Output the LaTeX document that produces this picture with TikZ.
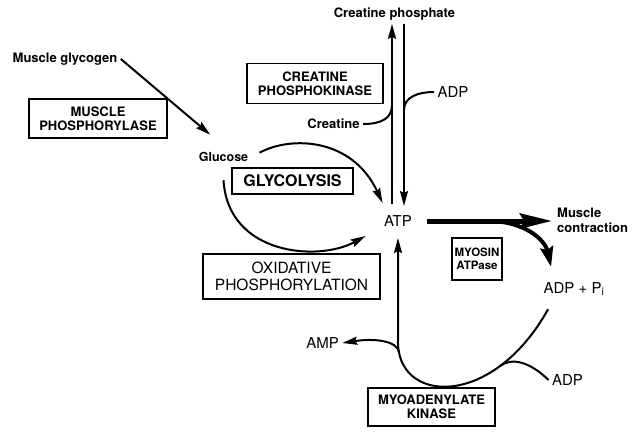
\documentclass[tikz,border=0pt]{standalone}
\usepackage{fontspec}
\setmainfont{TeX Gyre Heros}
\usetikzlibrary{arrows.meta,calc}

\begin{document}
\begin{tikzpicture}[x=1pt,y=-1pt]
  % Define styles
  \tikzstyle{enzyme} = [rectangle, draw, line width=1.2pt, align=center, inner sep=2pt, font=\bfseries\fontsize{13}{14}\selectfont]
  \tikzstyle{metabolite} = [align=left, font=\bfseries\fontsize{13}{15}\selectfont]
  \tikzstyle{pool} = [font=\fontsize{15}{17}\selectfont]
  \tikzstyle{link} = [line width=2pt]
  \tikzstyle{arrow} = [link, ->, >={Stealth[length=15pt,width=8pt,inset=2pt]}]
  \tikzstyle{power} = [line width=5pt, ->, >={Stealth[length=32pt,width=15pt,inset=4pt]}]

  \useasboundingbox (0,0) rectangle (632,432);

  % Glycogen breakdown and glycolysis
  \node [metabolite] (glycogen) at (65,59) {Muscle glycogen};
  \node [enzyme, minimum width=138pt, minimum height=39pt] (phosphorylase) at (98,118.5) {MUSCLE\\PHOSPHORYLASE};
  \node [metabolite, font=\bfseries\fontsize{12.5}{14}\selectfont] (glucose) at (223.5,157) {Glucose};
  \node [enzyme, minimum width=121pt, minimum height=26pt, font=\bfseries\fontsize{16}{18}\selectfont] (glycolysis) at (292.5,181) {GLYCOLYSIS};
  \node [enzyme, minimum width=177pt, minimum height=45pt, font=\fontsize{15.5}{17}\selectfont] (oxphos) at (291.5,276.5) {OXIDATIVE\\PHOSPHORYLATION};

  % Creatine phosphate shuttle
  \node [metabolite] (cp) at (394.5,14) {Creatine phosphate};
  \node [enzyme, minimum width=136pt, minimum height=40pt] (cpk) at (315,83.5) {CREATINE\\PHOSPHOKINASE};
  \node [metabolite] (creatine) at (333.5,124) {Creatine};
  \node [pool] (adptop) at (453,92) {ADP};

  % ATP and its use
  \node [pool] (atp) at (398,221) {ATP};
  \node [metabolite, anchor=west, inner sep=0pt] (contraction) at (557,220) {Muscle\\contraction};
  \node [enzyme, minimum width=50pt, minimum height=42pt, font=\bfseries\fontsize{11.5}{13}\selectfont] (myosin) at (477,259) {MYOSIN\\ATPase};
  \node [pool] (adppi) at (574,289) {ADP + P\textsubscript{i}};

  % Myoadenylate kinase
  \node [pool] (amp) at (322.5,343) {AMP};
  \node [pool] (adpbot) at (567.5,380) {ADP};
  \node [enzyme, minimum width=127pt, minimum height=38pt] (myokinase) at (431.5,407) {MYOADENYLATE\\KINASE};

  % Junctions on the paths
  \coordinate (jcre) at (392,105);
  \coordinate (jadpt) at (404,110);
  \coordinate (jmyo) at (488,221);
  \coordinate (jadp) at (500,366);
  \coordinate (jamp) at (399,352);

  % Glycogen to ATP
  \draw [arrow] (glycogen.east) -- ([shift={(15,-14)}]glucose.north west);
  \draw [arrow, shorten <=9pt] (glucose.east) .. controls (290,136) and (352,137) .. ([shift={(2,-9)}]atp.north west);
  \draw [arrow] ([yshift=-15pt]glucose.south) .. controls (228,255) and (318,262) .. ([shift={(-15,6)}]atp.south west);

  % Creatine kinase lines
  \draw [arrow] ([xshift=-6pt,yshift=8pt]atp.north) -- ([xshift=-6pt]atp.north |- cp.south);
  \draw [arrow] ([xshift=6pt]atp.north |- cp.south) -- ([xshift=6pt,yshift=6pt]atp.north);
  \draw [link] (creatine.east) .. controls (382,124) and (392,118) .. (jcre);
  \draw [link] (adptop.west) .. controls (418,92) and (404,97) .. (jadpt);

  % ATP hydrolysis
  \draw [power, shorten <=12pt, shorten >=5pt] (atp.east) -- (atp.east -| contraction.west);
  \draw [arrow, line width=4pt, >={Stealth[length=20pt,width=13pt,inset=3pt]}] (jmyo) .. controls (525,221) and (545,240) .. ([shift={(11,-12)}]adppi.north west);

  % ADP back to ATP
  \draw [arrow, shorten >=8pt] ([shift={(8,10)}]adppi.south west) .. controls (492,410) and (396,404) .. (398,340) -- (atp.south);
  \draw [arrow] (jamp) .. controls (397,341) and (375,338) .. (amp.east);
  \draw [link] (adpbot.west) .. controls (530,362) and (512,357) .. (jadp);
\end{tikzpicture}
\end{document}
